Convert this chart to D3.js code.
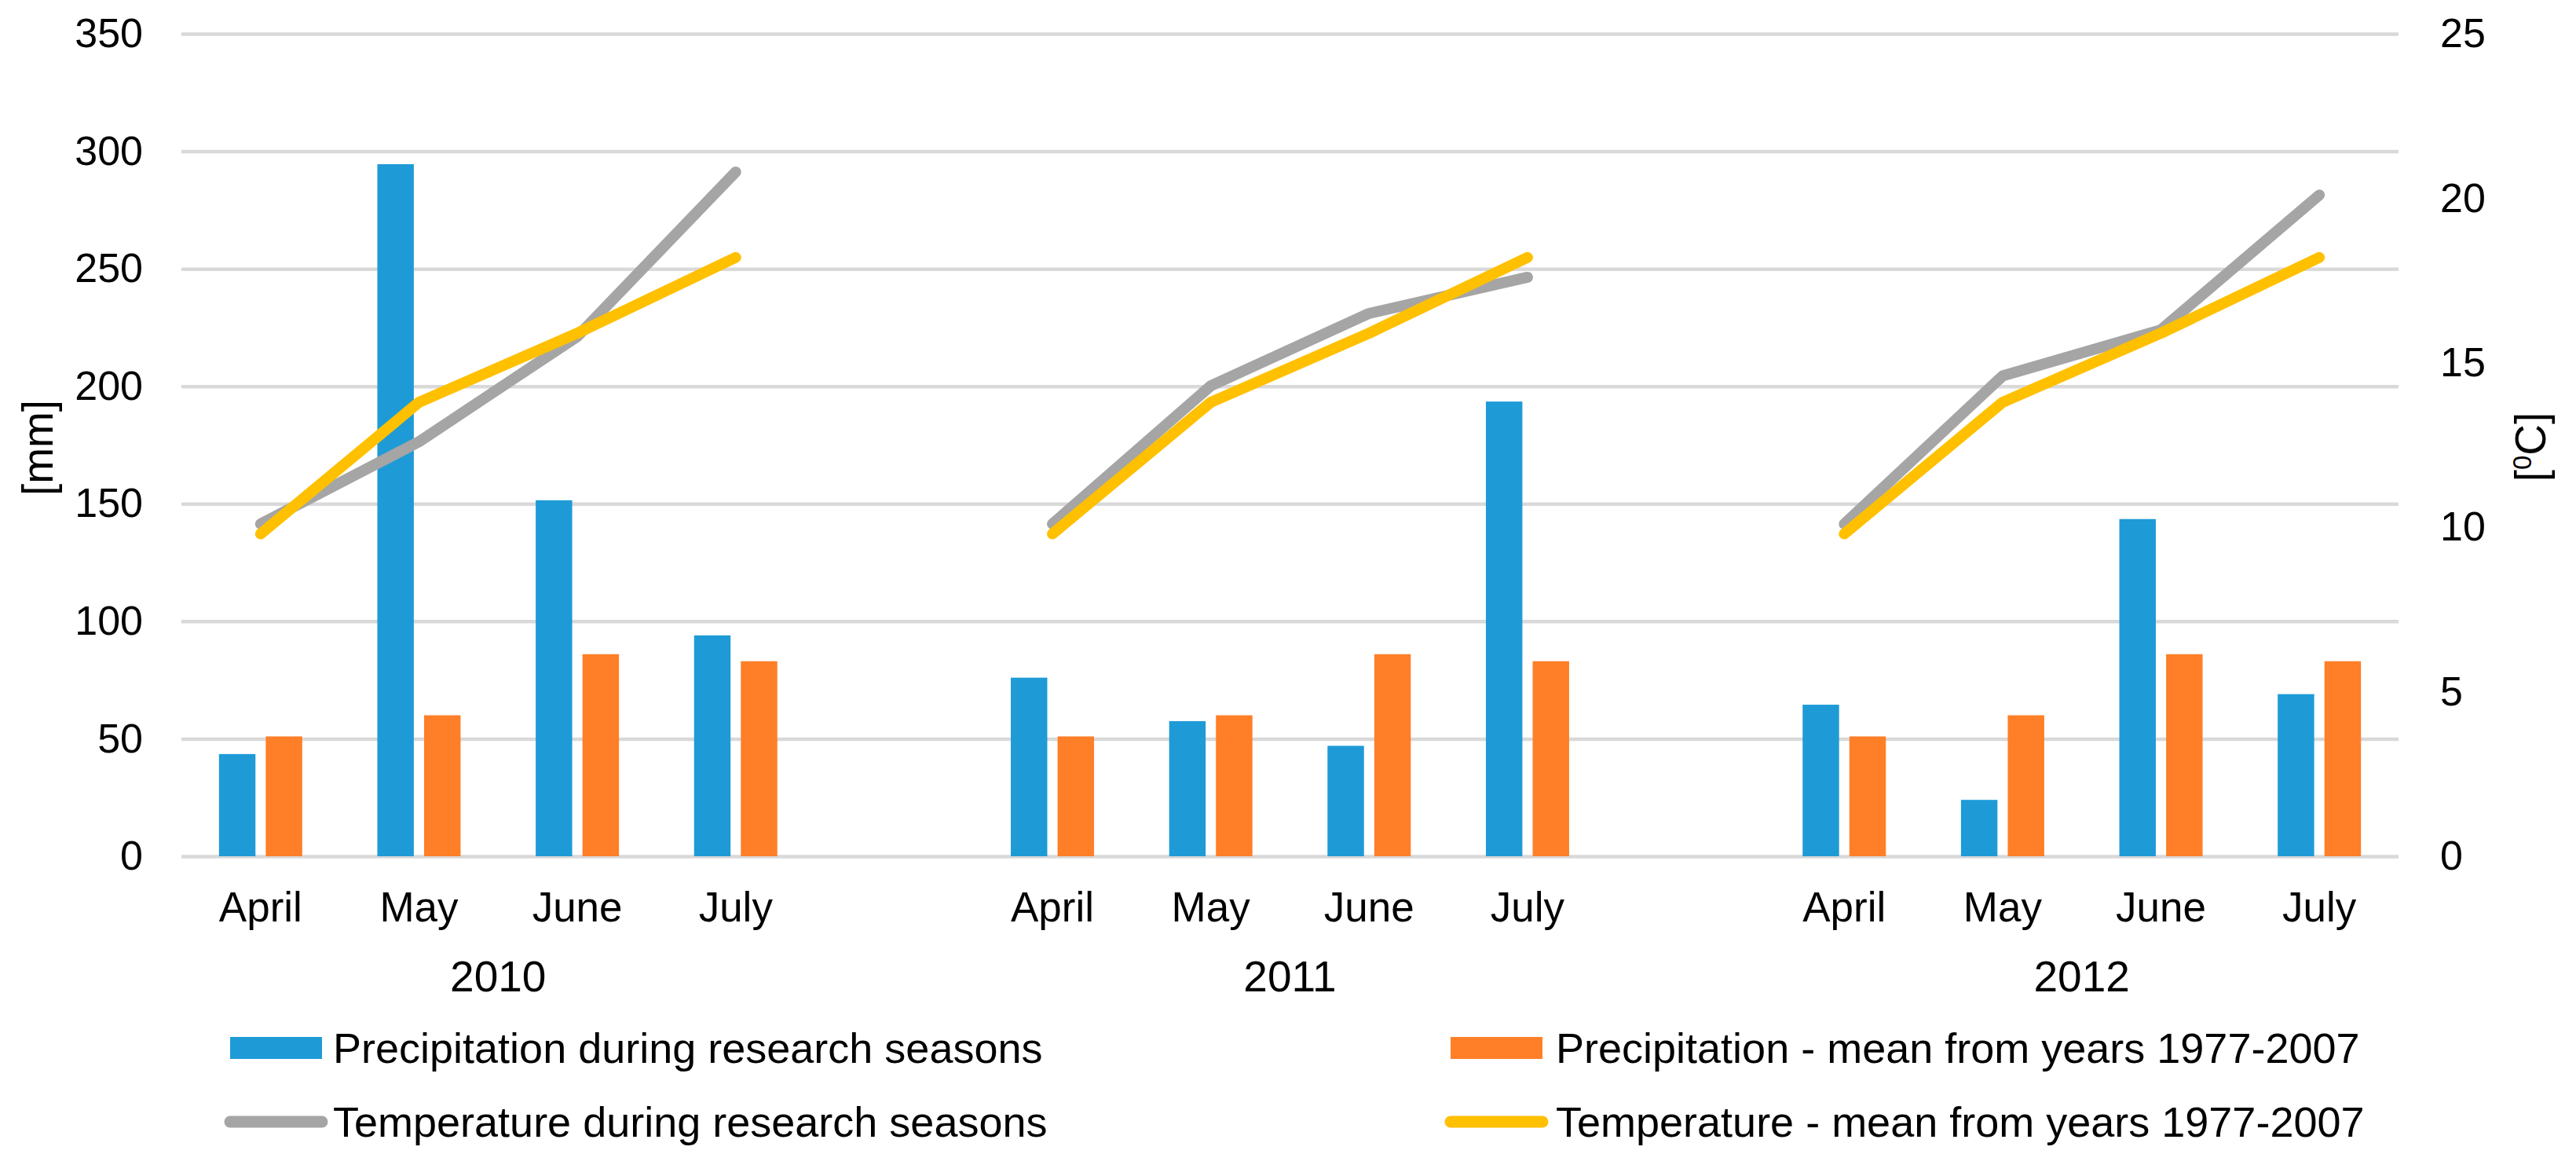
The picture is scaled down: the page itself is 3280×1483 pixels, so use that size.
<!DOCTYPE html>
<html>
<head>
<meta charset="utf-8">
<script src="https://cdn.jsdelivr.net/npm/d3@7"></script>
<style>
  html, body { margin: 0; padding: 0; background: #fff; }
  svg { display: block; }
  text { font-family: "Liberation Sans", Arial, sans-serif; fill: #000; }
</style>
</head>
<body>
<svg id="chart" width="3280" height="1483"></svg>
<script>
// ---------- data ----------
const years = ["2010", "2011", "2012"];
const months = ["April", "May", "June", "July"];
// order: 2010 Apr..Jul, 2011 Apr..Jul, 2012 Apr..Jul
const precipSeason = [43.5, 294.5, 151.5, 94, 76, 57.5, 47, 193.5, 64.5, 24, 143.5, 69];
const precipMean   = [51, 60, 86, 83, 51, 60, 86, 83, 51, 60, 86, 83];
const tempSeason   = [10.1, 12.6, 15.8, 20.8, 10.1, 14.3, 16.5, 17.6, 10.1, 14.6, 16.0, 20.1];
const tempMean     = [9.8, 13.8, 15.9, 18.2, 9.8, 13.8, 15.9, 18.2, 9.8, 13.8, 15.9, 18.2];
const leftTicks  = [0, 50, 100, 150, 200, 250, 300, 350];
const rightTicks = [0, 5, 10, 15, 20, 25];
const seriesNames = [
  "Precipitation during research seasons",
  "Precipitation - mean from years 1977-2007",
  "Temperature during research seasons",
  "Temperature - mean from years 1977-2007"
];
const colors = { precipSeason: "#1E9BD7", precipMean: "#FE7F27", tempSeason: "#A5A5A5", tempMean: "#FFC000" };

// ---------- build category domain (with blank separators between years) ----------
const domain = [];
const rows = [];
years.forEach((y, yi) => {
  months.forEach((m, mi) => {
    const k = y + "-" + m;
    domain.push(k);
    const i = yi * months.length + mi;
    rows.push({ key: k, year: y, month: m, ps: precipSeason[i], pm: precipMean[i], ts: tempSeason[i], tm: tempMean[i] });
  });
  if (yi < years.length - 1) domain.push("gap" + yi);
});

const W = 3280, H = 1483;
const plot = { left: 231, right: 3054, top: 43, bottom: 1090 };
const FONT = '"Liberation Sans", Arial, sans-serif';

const x = d3.scaleBand().domain(domain).range([plot.left, plot.right]).paddingInner(0).paddingOuter(0);
const yL = d3.scaleLinear().domain([0, 350]).range([plot.bottom, plot.top]);
const yR = d3.scaleLinear().domain([0, 25]).range([plot.bottom, plot.top]);

const svg = d3.select("#chart");
svg.append("rect").attr("width", W).attr("height", H).attr("fill", "#fff");

// gridlines
const grid = svg.append("g").attr("transform", `translate(${plot.left},0)`)
  .call(d3.axisLeft(yL).tickValues(leftTicks).tickSize(-(plot.right - plot.left)).tickFormat(""));
grid.select(".domain").remove();
grid.selectAll("line").attr("stroke", "#D9D9D9").attr("stroke-width", 4.5);

// left axis labels
const axL = svg.append("g").attr("transform", `translate(${plot.left},0)`)
  .call(d3.axisLeft(yL).tickValues(leftTicks).tickSize(0).tickPadding(49));
axL.select(".domain").remove();
axL.selectAll("text").attr("font-size", 52).attr("font-family", FONT).attr("fill", "#000");

// right axis labels
const axR = svg.append("g").attr("transform", `translate(${plot.right},0)`)
  .call(d3.axisRight(yR).tickValues(rightTicks).tickSize(0).tickPadding(53));
axR.select(".domain").remove();
axR.selectAll("text").attr("font-size", 52).attr("font-family", FONT).attr("fill", "#000");

// bars
const sub = d3.scaleBand().domain(["ps", "pm"]).range([0, 106]).paddingInner(0.22);
const bars = svg.append("g");
rows.forEach(r => {
  const cx = x(r.key) + x.bandwidth() / 2 - 53;
  [["ps", colors.precipSeason], ["pm", colors.precipMean]].forEach(([k, c]) => {
    bars.append("rect")
      .attr("x", cx + sub(k))
      .attr("width", sub.bandwidth())
      .attr("y", yL(r[k]))
      .attr("height", yL(0) - yL(r[k]))
      .attr("fill", c);
  });
});

// lines (one segment per year)
const line = d3.line().x(d => x(d.key) + x.bandwidth() / 2);
const linesG = svg.append("g");
[["ts", colors.tempSeason], ["tm", colors.tempMean]].forEach(([k, c]) => {
  years.forEach(y => {
    const pts = rows.filter(r => r.year === y);
    linesG.append("path")
      .attr("d", line.y(d => yR(d[k]))(pts))
      .attr("fill", "none")
      .attr("stroke", c)
      .attr("stroke-width", 14)
      .attr("stroke-linecap", "round")
      .attr("stroke-linejoin", "round");
  });
});

// month axis
const axB = svg.append("g").attr("transform", `translate(0,${plot.bottom})`)
  .call(d3.axisBottom(x).tickValues(rows.map(r => r.key)).tickSize(0).tickPadding(45)
    .tickFormat(k => k.split("-")[1]));
axB.select(".domain").remove();
axB.selectAll("text").attr("font-size", 53).attr("font-family", FONT).attr("fill", "#000");

// year labels
years.forEach(y => {
  const ks = rows.filter(r => r.year === y).map(r => r.key);
  const cx = (x(ks[0]) + x(ks[ks.length - 1]) + x.bandwidth()) / 2;
  svg.append("text").attr("x", cx).attr("y", 1262).attr("text-anchor", "middle")
    .attr("font-size", 55).text(y);
});

// axis titles
svg.append("text").attr("transform", "translate(67,570) rotate(-90)")
  .attr("text-anchor", "middle").attr("font-size", 55).text("[mm]");
const rt = svg.append("text").attr("transform", "translate(3241,569) rotate(-90)")
  .attr("text-anchor", "middle").attr("font-size", 55);
rt.append("tspan").text("[");
rt.append("tspan").attr("font-size", 33).attr("baseline-shift", "super").text("0");
rt.append("tspan").text("C]");

// legend
const leg = svg.append("g");
const legItems = [
  { name: seriesNames[0], type: "rect", color: colors.precipSeason, sx: 293, tx: 424, cy: 1334 },
  { name: seriesNames[1], type: "rect", color: colors.precipMean, sx: 1847, tx: 1981, cy: 1334 },
  { name: seriesNames[2], type: "line", color: colors.tempSeason, sx: 293, tx: 424, cy: 1428 },
  { name: seriesNames[3], type: "line", color: colors.tempMean, sx: 1847, tx: 1981, cy: 1428 }
];
legItems.forEach(it => {
  if (it.type === "rect") {
    leg.append("rect").attr("x", it.sx).attr("y", it.cy - 14).attr("width", 117).attr("height", 28).attr("fill", it.color);
  } else {
    leg.append("line").attr("x1", it.sx).attr("x2", it.sx + 117).attr("y1", it.cy).attr("y2", it.cy)
      .attr("stroke", it.color).attr("stroke-width", 15).attr("stroke-linecap", "round");
  }
  leg.append("text").attr("x", it.tx).attr("y", it.cy + 19).attr("font-size", 54).text(it.name);
});
</script>
</body>
</html>
